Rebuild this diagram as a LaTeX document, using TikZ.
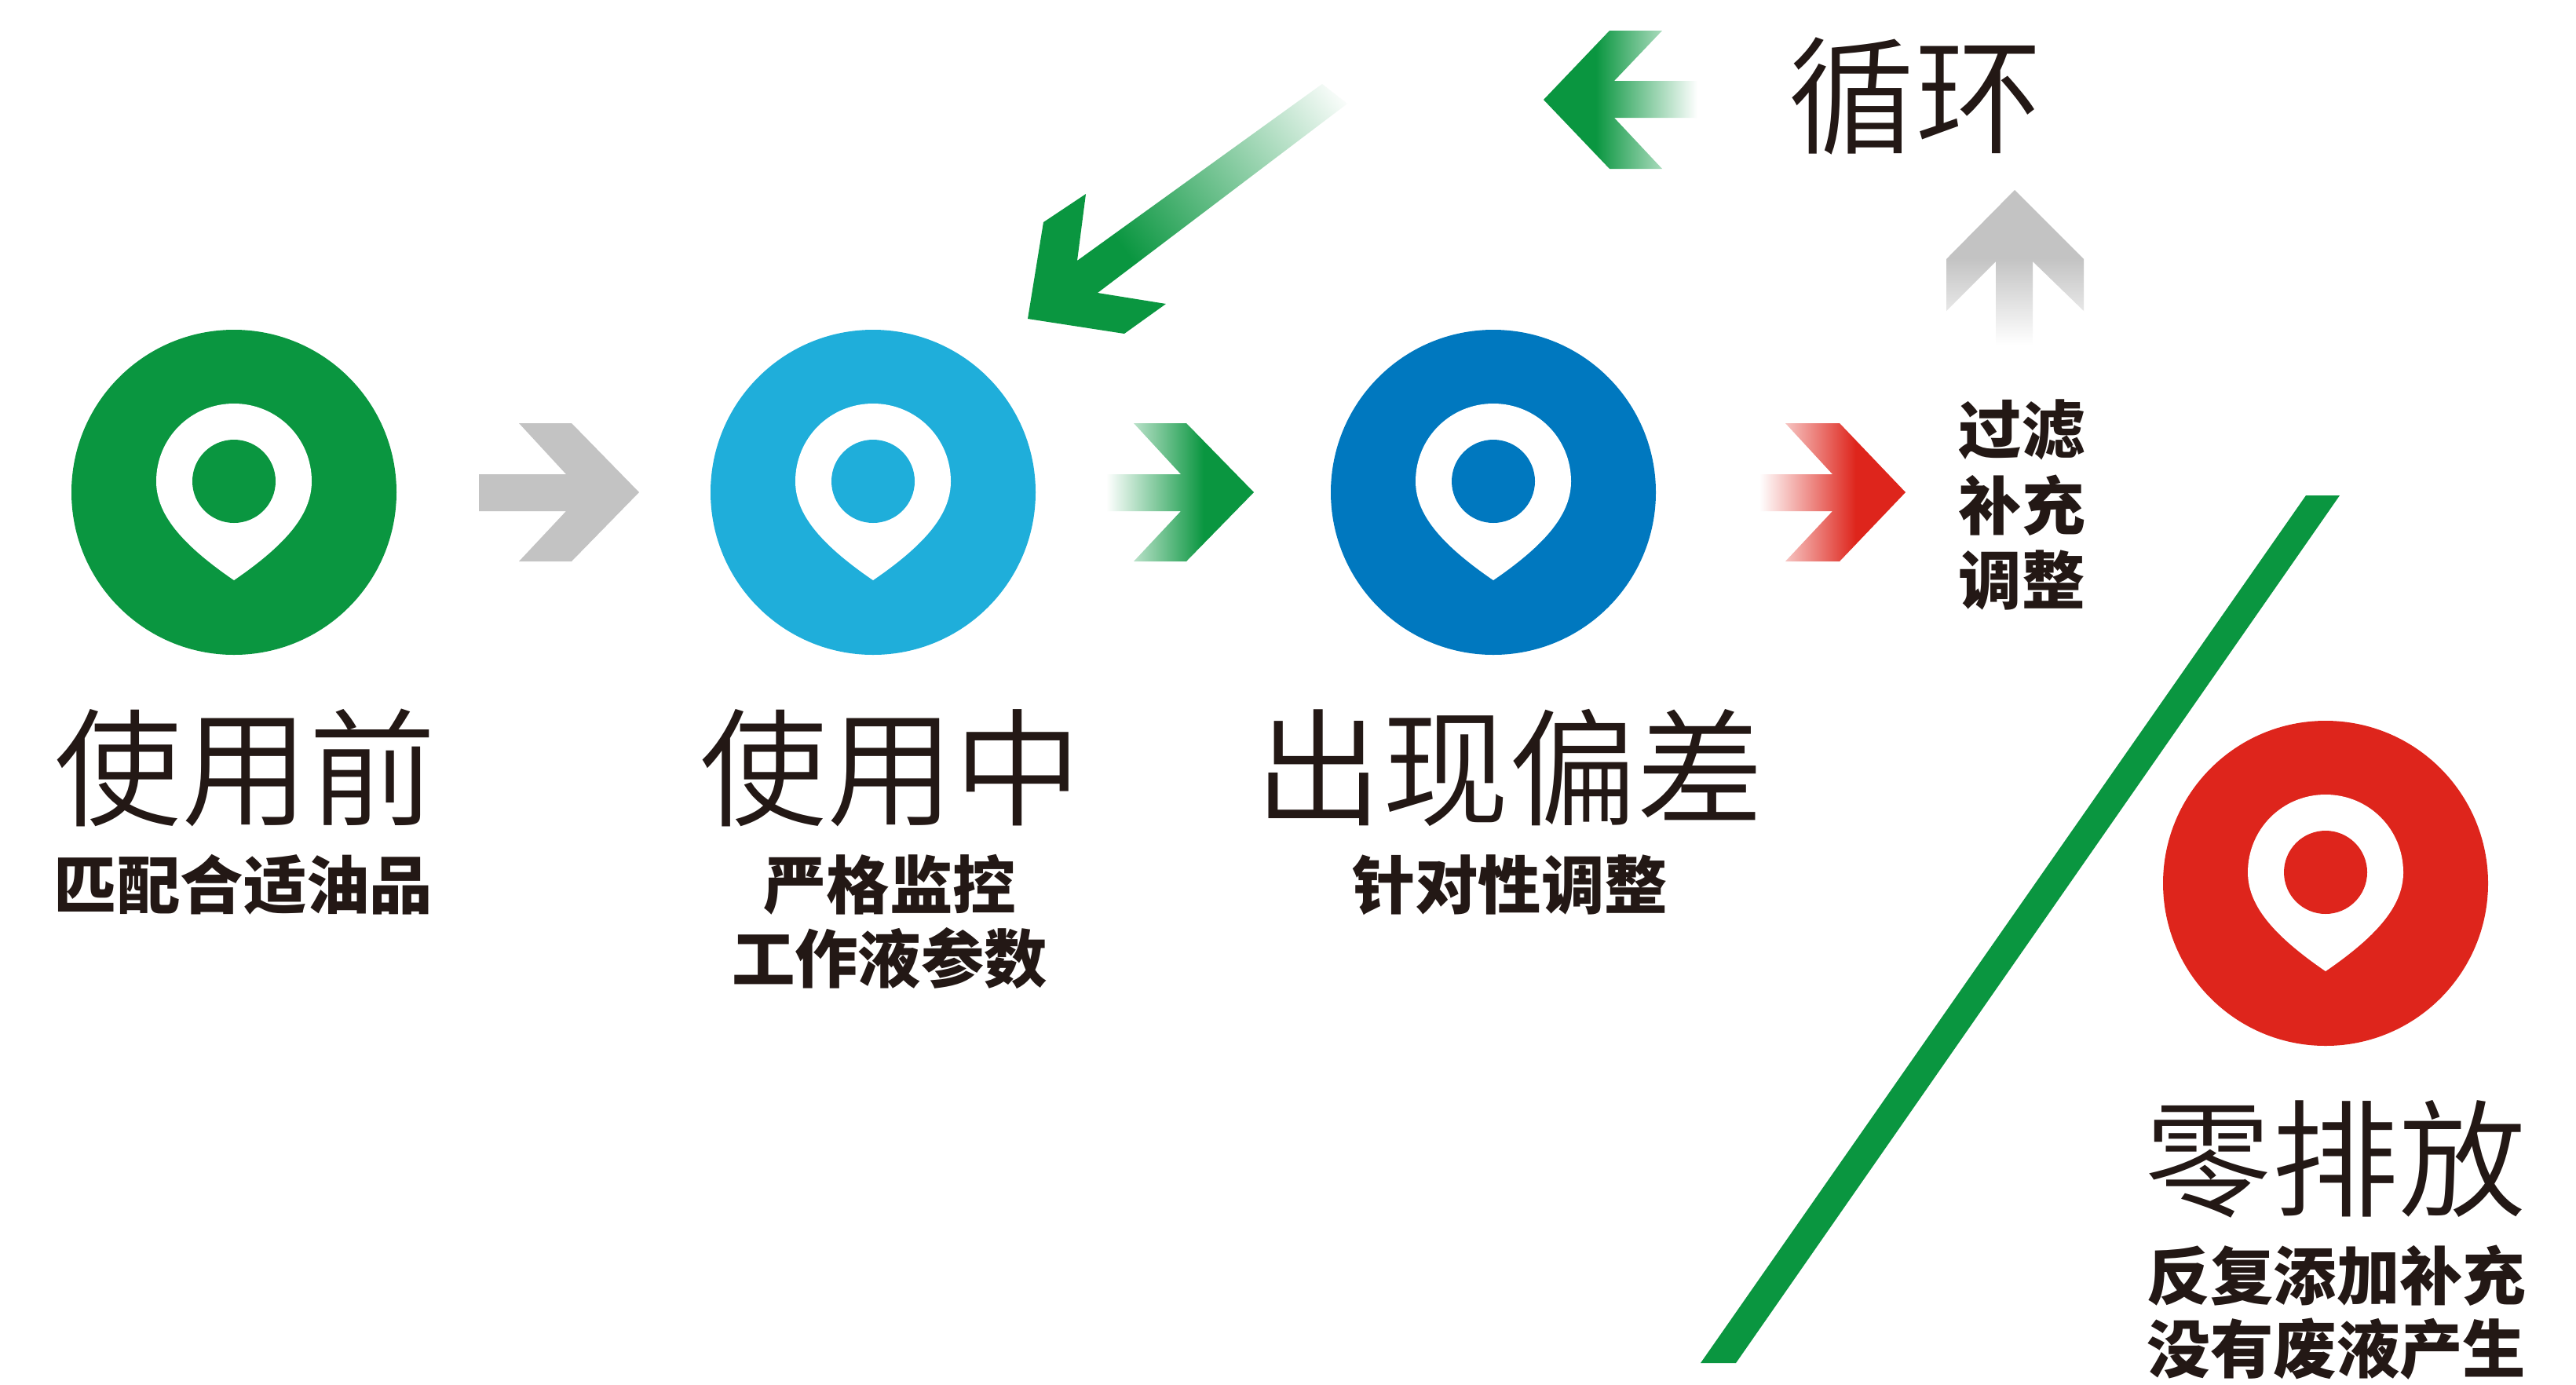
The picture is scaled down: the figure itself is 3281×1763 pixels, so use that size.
\documentclass[tikz,border=0pt]{standalone}
\usepackage{fontspec}
\setmainfont{Noto Sans CJK SC}
\newfontfamily\cjklight{Noto Sans CJK SC DemiLight}
\newfontfamily\cjkblack{Noto Sans CJK SC Black}
\definecolor{gA}{HTML}{0A9640}
\definecolor{bL}{HTML}{1FAEDA}
\definecolor{bD}{HTML}{0078BF}
\definecolor{rD}{HTML}{DE251C}
\definecolor{gy}{HTML}{C3C3C3}
\definecolor{ink}{HTML}{231815}
\pgfdeclareverticalshading{fadegreen}{100bp}{color(0bp)=(gA); color(25bp)=(gA); color(42bp)=(gA); color(75bp)=(white); color(100bp)=(white)}
\pgfdeclareverticalshading{fadediag}{100bp}{color(0bp)=(gA); color(25bp)=(gA); color(37bp)=(gA); color(84bp)=(white); color(100bp)=(white)}
\pgfdeclareverticalshading{fadered}{100bp}{color(0bp)=(rD); color(25bp)=(rD); color(42bp)=(rD); color(75bp)=(white); color(100bp)=(white)}
\pgfdeclareverticalshading{fadegray}{100bp}{color(0bp)=(gy); color(25bp)=(gy); color(47bp)=(gy); color(75bp)=(white); color(100bp)=(white)}
\tikzset{
  disc/.style={circle,fill=#1,draw=none,minimum size=207pt,inner sep=0pt},
  bigt/.style={anchor=base,inner sep=0pt,text=ink,font=\cjklight\fontsize{81}{81}\selectfont},
  smallt/.style={anchor=base,inner sep=0pt,text=ink,font=\cjkblack\fontsize{40.2}{40.2}\selectfont},
}
% pin mark: #1,#2 centre of the disc, #3 colour of its eye
\newcommand{\pinmark}[3]{%
  \begin{scope}[shift={(#1,#2)}]
    \fill[white] (0,112) .. controls (-70,64) and (-99,26) .. (-99,-14)
      .. controls (-99,-69) and (-55,-113) .. (0,-113)
      .. controls (55,-113) and (99,-69) .. (99,-14)
      .. controls (99,26) and (70,64) .. (0,112) -- cycle;
    \fill[#3] (0,-14) circle[radius=53];
  \end{scope}}
\begin{document}
\begin{tikzpicture}[x=0.5pt,y=-0.5pt]
\useasboundingbox (0,0) rectangle (3281,1763);
\fill[white] (0,0) rectangle (3281,1763);
% discs
\node[disc=gA] (c1) at (298,627) {};
\node[disc=bL] (c2) at (1112,627) {};
\node[disc=bD] (c3) at (1902,627) {};
\node[disc=rD] (c4) at (2962,1125) {};
\pinmark{298}{627}{gA}
\pinmark{1112}{627}{bL}
\pinmark{1902}{627}{bD}
\pinmark{2962}{1125}{rD}
% arrows
\fill[gy] (610,604)--(721,604)--(661,539)--(728,539)--(814,627)--(728,715)--(661,715)--(721,651)--(610,651)--cycle;
\shade[shading=fadegreen,shading angle=90] (1409,604)--(1504,604)--(1444,539)--(1511,539)--(1597,627)--(1511,715)--(1444,715)--(1504,651)--(1409,651)--cycle;
\shade[shading=fadered,shading angle=90] (2241,604)--(2334,604)--(2274,539)--(2343,539)--(2427,627)--(2343,715)--(2274,715)--(2334,651)--(2241,651)--cycle;
\shade[shading=fadegreen,shading angle=-90] (2162,103)--(2056,103)--(2117,39)--(2050,39)--(1966,127)--(2050,215)--(2117,215)--(2056,150)--(2162,150)--cycle;
\shade[shading=fadegray,shading angle=180] (2566,242)--(2654,330)--(2654,396)--(2589,333)--(2589,439)--(2542,439)--(2542,333)--(2479,396)--(2479,330)--cycle;
\shade[shading=fadediag,shading angle=-53] (1684,107)--(1372,332)--(1383,247)--(1329,283)--(1309,406)--(1432,425)--(1485,387)--(1398,373)--(1716,132)--cycle;
% bar
\fill[gA] (2937,631)--(2980,631)--(2211,1736)--(2166,1736)--cycle;
% labels
\node[bigt] (t1) at (312,1039) {使用前};
\node[smallt] (s1) at (310,1157) {匹配合适油品};
\node[bigt] (t2) at (1134,1039) {使用中};
\node[smallt] (s2a) at (1133,1157) {严格监控};
\node[smallt] (s2b) at (1133,1251) {工作液参数};
\node[bigt] (t3) at (1922,1039) {出现偏差};
\node[smallt] (s3) at (1923,1157) {针对性调整};
\node[bigt] (t4) at (2439,183) {循环};
\node[smallt] (a1) at (2575,577) {过滤};
\node[smallt] (a2) at (2575,674) {补充};
\node[smallt] (a3) at (2575,769) {调整};
\node[bigt] (t5) at (2974,1537) {零排放};
\node[smallt] (s5a) at (2976,1655) {反复添加补充};
\node[smallt] (s5b) at (2976,1748) {没有废液产生};
\end{tikzpicture}
\end{document}
